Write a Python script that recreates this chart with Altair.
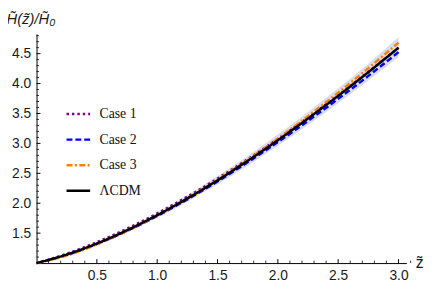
import altair as alt
import pandas as pd

# redshift samples
z = [0.0, 0.25, 0.5, 0.75, 1.0, 1.25, 1.5, 1.75, 2.0, 2.25, 2.5, 2.75, 3.0]

# H(z)/H0
case1 = [1.0, 1.155, 1.350, 1.575, 1.830, 2.110, 2.412, 2.735, 3.075, 3.432, 3.805, 4.195, 4.598]
case2 = [1.0, 1.135, 1.318, 1.538, 1.788, 2.065, 2.365, 2.685, 3.022, 3.376, 3.745, 4.128, 4.525]
case3 = [1.0, 1.125, 1.312, 1.538, 1.795, 2.080, 2.390, 2.725, 3.080, 3.455, 3.848, 4.258, 4.685]
lcdm = [1.0, 1.142, 1.327, 1.548, 1.800, 2.080, 2.383, 2.709, 3.053, 3.416, 3.795, 4.190, 4.600]

# uncertainty band
band_lo = [1.0, 1.130, 1.306, 1.516, 1.757, 2.025, 2.316, 2.628, 2.960, 3.308, 3.672, 4.050, 4.445]
band_hi = [1.0, 1.154, 1.348, 1.580, 1.843, 2.135, 2.450, 2.790, 3.147, 3.525, 3.920, 4.332, 4.780]

series_names = ["Case 1", "Case 2", "Case 3", "ΛCDM"]
series_colors = ["#800080", "#0000ff", "#ff8000", "#000000"]
series_dashes = [[2.5, 3], [6, 3], [6, 2.5, 2, 2.5], [1, 0]]

x_major = [0.5, 1.0, 1.5, 2.0, 2.5, 3.0]
x_minor = [0.1, 0.2, 0.3, 0.4, 0.6, 0.7, 0.8, 0.9, 1.1, 1.2, 1.3, 1.4, 1.6, 1.7, 1.8, 1.9,
           2.1, 2.2, 2.3, 2.4, 2.6, 2.7, 2.8, 2.9, 3.1]
y_major = [1.5, 2.0, 2.5, 3.0, 3.5, 4.0, 4.5]
y_minor = [1.1, 1.2, 1.3, 1.4, 1.6, 1.7, 1.8, 1.9, 2.1, 2.2, 2.3, 2.4, 2.6, 2.7, 2.8, 2.9,
           3.1, 3.2, 3.3, 3.4, 3.6, 3.7, 3.8, 3.9, 4.1, 4.2, 4.3, 4.4, 4.6, 4.7, 4.8]

W, H = 376, 233
xscale = alt.Scale(domain=[0, 3.065], nice=False, zero=False)
yscale = alt.Scale(domain=[1, 4.83], nice=False, zero=False)

rows = []
for name, vals in zip(series_names, [case1, case2, case3, lcdm]):
    for zz, v in zip(z, vals):
        rows.append({"z": zz, "H": v, "series": name})
df = pd.DataFrame(rows)
band_df = pd.DataFrame({"z": z, "lo": band_lo, "hi": band_hi})

axis_font = "Liberation Sans"

x_axis = alt.Axis(values=x_major, format=".1f", ticks=False, grid=False,
                  labelOverlap=False,
                  domainColor="#000000", domainWidth=1, labelFont=axis_font,
                  labelFontSize=14, labelColor="#1a1a1a", labelPadding=6,
                  title="z̃", titleFont=axis_font, titleFontSize=16,
                  titleFontWeight="normal", titleColor="#1a1a1a",
                  titleAngle=0, titleAlign="left", titleBaseline="middle",
                  titleX=W + 9, titleY=-1)
y_axis = alt.Axis(values=y_major, format=".1f", ticks=False, grid=False,
                  labelOverlap=False,
                  domainColor="#000000", domainWidth=1, labelFont=axis_font,
                  labelFontSize=14, labelColor="#1a1a1a", labelPadding=6,
                  title="H̃(z̃)/H̃₀", titleFont=axis_font, titleFontSize=15,
                  titleFontStyle="italic", titleFontWeight="normal",
                  titleColor="#1a1a1a", titleAngle=0, titleAlign="left",
                  titleBaseline="middle", titleX=-31, titleY=-16)

band = alt.Chart(band_df).mark_area(color="#d4d6ee", opacity=0.85, interpolate="monotone").encode(
    x=alt.X("z:Q", scale=xscale, axis=x_axis),
    y=alt.Y("lo:Q", scale=yscale, axis=y_axis),
    y2="hi:Q",
)

legend_cfg = dict(orient="none", legendX=29, legendY=68, title=None,
                  symbolType="stroke", symbolSize=576, symbolStrokeWidth=2.5,
                  labelFont="Liberation Serif", labelFontSize=14, labelColor="#111111",
                  labelOffset=8, rowPadding=5, padding=0)

lines = alt.Chart(df).mark_line(strokeWidth=2.5, interpolate="monotone").encode(
    x=alt.X("z:Q", scale=xscale, axis=x_axis),
    y=alt.Y("H:Q", scale=yscale, axis=y_axis),
    color=alt.Color("series:N",
                    scale=alt.Scale(domain=series_names, range=series_colors),
                    legend=alt.Legend(**legend_cfg)),
    strokeDash=alt.StrokeDash("series:N",
                              scale=alt.Scale(domain=series_names, range=series_dashes),
                              legend=alt.Legend(**legend_cfg)),
)

xmaj = alt.Chart(pd.DataFrame({"t": x_major})).mark_rule(color="#000000", strokeWidth=1).encode(
    x=alt.X("t:Q", scale=xscale, axis=x_axis), y=alt.value(H), y2=alt.value(H - 4))
xmin = alt.Chart(pd.DataFrame({"t": x_minor})).mark_rule(color="#000000", strokeWidth=0.8).encode(
    x=alt.X("t:Q", scale=xscale, axis=x_axis), y=alt.value(H), y2=alt.value(H - 2.5))
ymaj = alt.Chart(pd.DataFrame({"t": y_major})).mark_rule(color="#000000", strokeWidth=1).encode(
    y=alt.Y("t:Q", scale=yscale, axis=y_axis), x=alt.value(0), x2=alt.value(4))
ymin = alt.Chart(pd.DataFrame({"t": y_minor})).mark_rule(color="#000000", strokeWidth=0.8).encode(
    y=alt.Y("t:Q", scale=yscale, axis=y_axis), x=alt.value(0), x2=alt.value(2.5))

chart = alt.layer(band, lines, xmaj, xmin, ymaj, ymin).properties(
    width=W, height=H,
    background="white",
    autosize=alt.AutoSizeParams(type="none"),
    padding={"left": 29, "top": 24, "right": 22, "bottom": 22},
).configure_view(stroke=None)

chart.save("out.html", embed_options={"renderer": "svg", "actions": False})
